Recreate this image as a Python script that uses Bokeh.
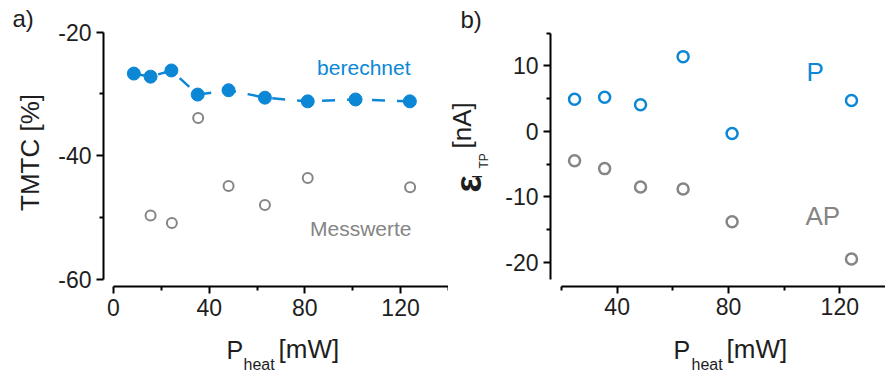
import numpy as np
from bokeh.plotting import figure
from bokeh.layouts import row
from bokeh.models import Label, FixedTicker, ColumnDataSource, PrintfTickFormatter
from bokeh.embed import file_html
from bokeh.resources import INLINE

# ---------------- data ----------------
# panel a: TMTC vs heating power
a_calc_x = [8.5, 15.5, 24.2, 35.2, 48.1, 63.3, 81.2, 101.2, 123.9]
a_calc_y = [-26.7, -27.2, -26.2, -30.1, -29.4, -30.6, -31.2, -30.9, -31.2]
a_meas_x = [15.5, 24.4, 35.4, 48.1, 63.3, 81.2, 124.0]
a_meas_y = [-49.7, -50.9, -33.9, -44.9, -48.0, -43.6, -45.1]

# panel b: epsilon_I_TP vs heating power
b_x = [24.7, 35.5, 48.4, 63.7, 81.3, 124.2]
b_p = [4.9, 5.2, 4.05, 11.4, -0.34, 4.7]
b_ap = [-4.5, -5.7, -8.5, -8.8, -13.8, -19.5]

a_xticks = [0, 40, 80, 120]
a_xminor = [20, 60, 100, 140]
a_yticks = [-60, -40, -20]
a_yminor = [-50, -30]
b_xticks = [40, 80, 120]
b_xminor = [20, 60, 100]
b_yticks = [-20, -10, 0, 10]
b_yminor = [-15, -5, 5, 15]

BLUE = "#0b87d6"
GREY = "#858585"
TXT = "#1e1e1e"
FONT = "Liberation Sans"
H = 380
D = 9  # baseline correction in px


def style(p):
    p.grid.visible = False
    p.outline_line_color = None
    p.background_fill_color = "white"
    p.border_fill_color = "white"
    for ax in (p.xaxis[0], p.yaxis[0]):
        ax.axis_line_width = 2
        ax.axis_line_color = "black"
        ax.major_tick_line_width = 2
        ax.minor_tick_line_width = 2
        ax.major_tick_line_color = "black"
        ax.minor_tick_line_color = "black"
        ax.major_tick_in = 0
        ax.major_tick_out = 7
        ax.minor_tick_in = 0
        ax.minor_tick_out = 4
        ax.major_label_text_font = FONT
        ax.major_label_text_font_size = "23px"
        ax.major_label_text_color = TXT
        ax.major_label_standoff = 5
        ax.formatter = PrintfTickFormatter(format="%d")


def lab(p, text, x, y, size, color=TXT, angle=0.0, align="left", baseline="alphabetic",
        units="screen", style_="normal"):
    p.add_layout(Label(x=x, y=y, x_units=units, y_units=units, text=text,
                       text_font=FONT, text_font_size=size, text_color=color,
                       angle=angle, text_align=align, text_baseline=baseline,
                       text_font_style=style_))


def fig(w, xr, yr):
    return figure(width=w, height=H, x_range=xr, y_range=yr,
                  output_backend="svg", toolbar_location=None,
                  min_border_left=0, min_border_right=0, min_border_top=0, min_border_bottom=0)


# ---------------- panel a ----------------
p1 = fig(448, (-47.24, 140.05), (-76.40, -14.87))
style(p1)
p1.xaxis.ticker = FixedTicker(ticks=a_xticks, minor_ticks=a_xminor)
p1.yaxis.ticker = FixedTicker(ticks=a_yticks, minor_ticks=a_yminor)
p1.xaxis.bounds = (0, 140)
p1.yaxis.bounds = (-60, -20)
p1.xaxis.fixed_location = -61.18
p1.yaxis.fixed_location = -4.18

src_calc = ColumnDataSource(dict(x=a_calc_x, y=a_calc_y))
src_meas = ColumnDataSource(dict(x=a_meas_x, y=a_meas_y))
p1.line("x", "y", source=src_calc, line_color=BLUE, line_width=2.5, line_dash="13 12")
p1.scatter("x", "y", source=src_calc, size=13, fill_color=BLUE, line_color=BLUE)
p1.scatter("x", "y", source=src_meas, size=10, fill_color=None, line_color=GREY, line_width=2)

lab(p1, "berechnet", 410, H - 76 + D, "21px", color=BLUE, align="right")
lab(p1, "Messwerte", 411, H - 237 + D, "21px", color=GREY, align="right")
lab(p1, "a)", 12, H - 27 + D, "24px")
lab(p1, "TMTC [%]", 29, H - 152, "26px", angle=np.pi / 2, align="center", baseline="middle")
lab(p1, "P", 226, H - 358 + D, "25px")
lab(p1, "heat", 243, H - 373 + D, "16px")
lab(p1, "[mW]", 278, H - 357 + D, "26px")

# ---------------- panel b ----------------
X0 = 448
p2 = fig(437, (-20.60, 136.42), (-38.05, 19.97))
style(p2)
p2.xaxis.ticker = FixedTicker(ticks=b_xticks, minor_ticks=b_xminor)
p2.yaxis.ticker = FixedTicker(ticks=b_yticks, minor_ticks=b_yminor)
p2.xaxis.bounds = (20, 136.42)
p2.yaxis.bounds = (-22.6, 15)
p2.xaxis.fixed_location = -23.69
p2.yaxis.fixed_location = 16.05

src_b = ColumnDataSource(dict(x=b_x, p=b_p, ap=b_ap))
p2.scatter("x", "p", source=src_b, size=11, fill_color=None, line_color=BLUE, line_width=2.5)
p2.scatter("x", "ap", source=src_b, size=11, fill_color=None, line_color=GREY, line_width=2.5)

lab(p2, "P", 806 - X0, H - 80 + D, "26px", color=BLUE)
lab(p2, "AP", 805 - X0, H - 224 + D, "26px", color=GREY)
lab(p2, "b)", 460 - X0, H - 28 + D, "24px")
lab(p2, "\u03b5", 477 - X0 - D, H - 192, "36px", angle=np.pi / 2, style_="bold")
lab(p2, "I", 485 - X0 - D, H - 178, "14px", angle=np.pi / 2)
lab(p2, "TP", 492 - X0 - D, H - 168, "12px", angle=np.pi / 2)
lab(p2, "[nA]", 470 - X0 - D, H - 148, "26px", angle=np.pi / 2)
lab(p2, "P", 673 - X0, H - 358 + D, "25px")
lab(p2, "heat", 691 - X0, H - 373 + D, "16px")
lab(p2, "[mW]", 726 - X0, H - 357 + D, "26px")

layout = row(p1, p2)
open("out.html", "w").write(file_html(layout, INLINE))
